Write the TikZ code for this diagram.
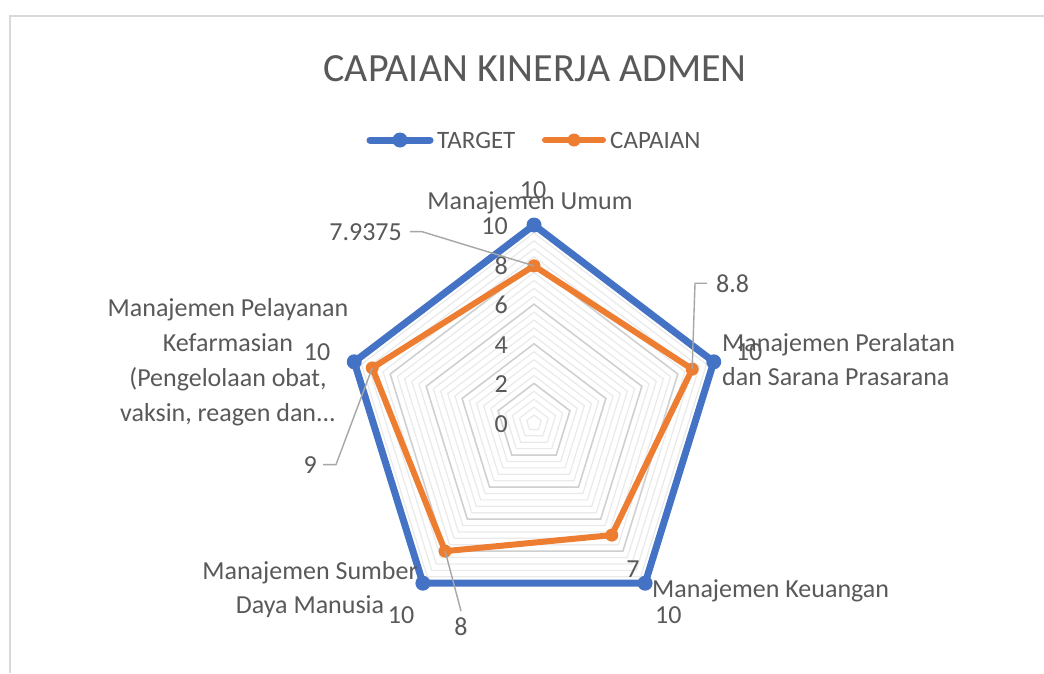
\documentclass[tikz,border=0pt]{standalone}
\usepackage{fontspec}
\setmainfont{Carlito}
\usetikzlibrary{calc}
\definecolor{targetblue}{HTML}{4472C4}
\definecolor{capaianorange}{HTML}{ED7D31}
\definecolor{labelgray}{HTML}{595959}
\definecolor{majorgrid}{HTML}{D0D0D0}
\definecolor{minorgrid}{HTML}{EAEAEA}
\definecolor{leadergray}{HTML}{A6A6A6}
\definecolor{framegray}{HTML}{D9D9D9}
\def\radarring[#1](#2){\draw[#1] (90:#2) -- (18:#2) -- (-54:#2) -- (-126:#2) -- (162:#2) -- cycle;}
\tikzset{
	lbl/.style={text=labelgray, inner sep=0pt, font=\fontsize{26}{33.5}\selectfont},
	leader/.style={draw=leadergray, line width=1.4pt},
	targetline/.style={draw=targetblue, line width=7pt, line join=round, line cap=round},
	capaianline/.style={draw=capaianorange, line width=6pt, line join=round, line cap=round},
}

\begin{document}
\begin{tikzpicture}[x=1pt, y=-1pt]
		%%%%% START %%%%%
		
		\useasboundingbox (0, 0) rectangle (1044, 673);
		\fill[white] (0, 0) rectangle (1044, 673);
		\draw[framegray, line width=2pt] (10, 673) -- (10, 16) -- (1044, 16);
		
		\node[lbl, anchor=base, font=\fontsize{40}{48}\selectfont] (title) at (535, 81) {CAPAIAN KINERJA ADMEN};
		
		\draw[targetline] (370, 140) -- (430, 140);
		\fill[targetblue] (400, 140) circle (7.5pt);
		\node[lbl, anchor=base west, font=\fontsize{25}{30}\selectfont] (leg-target) at (437, 148) {TARGET};
		\draw[capaianline] (545, 140) -- (603, 140);
		\fill[capaianorange] (574, 140) circle (6.5pt);
		\node[lbl, anchor=base west, font=\fontsize{25}{30}\selectfont] (leg-capaian) at (610, 148) {CAPAIAN};
		
		\begin{scope}[shift={(534, 423)}, x=18.9pt, y=19.8pt]
			\foreach \i in {1,...,25} {
				\pgfmathsetmacro\r{0.4*\i}
				\radarring[minorgrid, line width=1.2pt](\r)
			}
			\foreach \r in {2,4,...,10} {
				\radarring[majorgrid, line width=1.5pt](\r)
			}
			
			\draw[targetline] (90:10) -- (18:10) -- (-54:10) -- (-126:10) -- (162:10) -- cycle;
			\foreach \a in {90,18,-54,-126,162}
				\fill[targetblue] (\a:10) circle (7.5pt);
			
			\coordinate (c-umum) at (90:7.9375);
			\coordinate (c-alat) at (18:8.8);
			\coordinate (c-uang) at (-54:7);
			\coordinate (c-sdm) at (-126:8);
			\coordinate (c-farm) at (162:9);
			\draw[capaianline] (c-umum) -- (c-alat) -- (c-uang) -- (c-sdm) -- (c-farm) -- cycle;
			\foreach \c in {umum,alat,uang,sdm,farm}
				\fill[capaianorange] (c-\c) circle (6.5pt);
		\end{scope}
		
		\foreach \v in {0,2,...,10}
			\node[lbl, anchor=base east] (tick-\v) at (508, {432.5-19.8*\v}) {\v};
		
		\node[lbl, anchor=base] (ax-umum) at (530, 209) {Manajemen Umum};
		\node[lbl, anchor=base west, align=left] (ax-alat) at (722, 385) {Manajemen Peralatan\\dan Sarana Prasarana};
		\node[lbl, anchor=base west] (ax-uang) at (652, 597) {Manajemen Keuangan};
		\node[lbl, anchor=base, align=center] (ax-sdm) at (310, 613) {Manajemen Sumber\\Daya Manusia};
		\node[lbl, anchor=base, align=center, font=\fontsize{26}{34.7}\selectfont] (ax-farm) at (228, 421) {Manajemen Pelayanan\\Kefarmasian\\(Pengelolaan obat,\\vaksin, reagen dan...};
		
		\node[lbl, anchor=base] (t-umum) at (533, 198) {10};
		\node[lbl, anchor=base] (t-alat) at (749, 360) {10};
		\node[lbl, anchor=base west] (t-uang) at (655, 623) {10};
		\node[lbl, anchor=base] (t-sdm) at (401, 623) {10};
		\node[lbl, anchor=base] (t-farm) at (317, 360) {10};
		
		\node[lbl, anchor=base east] (v-umum) at (402, 240) {7.9375};
		\node[lbl, anchor=base west] (v-alat) at (716, 292) {8.8};
		\node[lbl, anchor=base] (v-uang) at (633, 577) {7};
		\node[lbl, anchor=base] (v-sdm) at (461, 635) {8};
		\node[lbl, anchor=base east] (v-farm) at (317, 473) {9};
		
		\draw[leader] ([xshift=8pt]v-umum.east) -- ++(12, 0) -- (c-umum);
		\draw[leader] ([xshift=-9pt]v-alat.west) -- ++(-12, 0) -- (c-alat);
		\draw[leader] ([yshift=6pt]v-sdm.north) -- (c-sdm);
		\draw[leader] ([xshift=6pt]v-farm.east) -- ++(13, 0) -- (c-farm);
		
		%%%%% END %%%%%
\end{tikzpicture}
\end{document}
